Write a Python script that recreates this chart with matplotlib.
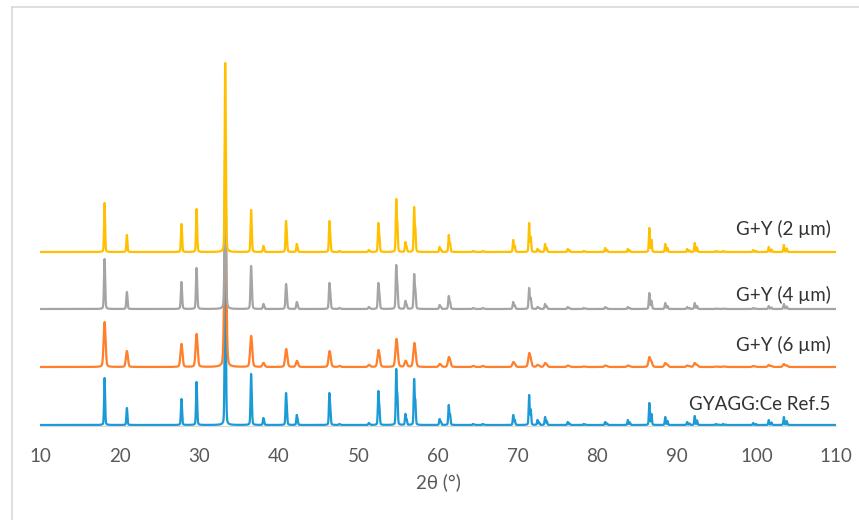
import numpy as np
import matplotlib
matplotlib.use('Agg')
import matplotlib.pyplot as plt
from matplotlib.lines import Line2D

# Peak positions (2theta, deg)
peak_pos = [18.1, 20.9, 27.75, 29.65, 33.25, 36.5, 38.05, 40.9, 42.25, 46.35,
            47.6, 51.3, 52.5, 54.75, 55.9, 57.0, 60.2, 61.35, 64.4, 65.6,
            69.45, 71.45, 72.5, 73.45, 76.3, 78.3, 81.0, 83.85, 86.55, 88.55,
            91.3, 92.25, 94.9, 95.8, 99.6, 101.55, 103.45]

# Peak heights (a.u.) per pattern, same order as peak_pos
h_ref = [47, 17, 26, 43, 175, 51, 7, 32, 10, 32,
         1, 2, 34, 56, 11, 46, 6, 20, 1, 1,
         10, 30, 5, 8, 3, 1, 3, 5, 22, 8,
         3, 9, 1, 1, 2, 5, 8]
h_6um = [45, 16, 23, 33, 160, 31, 4, 18, 6, 16,
         1, 2, 17, 28, 6, 24, 3, 10, 1, 1,
         5, 14, 2, 4, 1.5, 0.5, 1.5, 1.5, 10, 4,
         1.5, 4, 0.5, 0.5, 1, 2, 3]
h_4um = [50, 17, 27, 41, 170, 43, 5, 25, 7, 26,
         1, 2, 26, 44, 8, 35, 4, 13, 1, 1,
         7, 21, 2, 5, 2, 1, 2, 2, 16, 6,
         2, 6, 0.5, 0.5, 1, 3, 5]
h_2um = [49, 17, 28, 43, 189, 42, 6, 31, 8, 31,
         1, 2, 29, 53, 10, 45, 5, 17, 1, 1,
         12, 29, 3, 8, 3, 1, 4, 3, 24, 8,
         3, 9, 1, 1, 2, 5, 7]

labels = ['GYAGG:Ce Ref.5', 'G+Y (6 \u00b5m)', 'G+Y (4 \u00b5m)', 'G+Y (2 \u00b5m)']
heights = [h_ref, h_6um, h_4um, h_2um]
offsets = [0, 58, 116, 173]
fwhm = [0.14, 0.28, 0.16, 0.14]
colors = ['#1A9AD6', '#FF7F2A', '#A5A5A5', '#FFC000']
label_y = [20, 80, 130, 196]

x = np.linspace(10, 110, 8000)


def pattern(pos, hts, w):
    y = np.zeros_like(x)
    for p, h in zip(pos, hts):
        # Cu Ka2 companion at half intensity
        th2 = 2 * np.degrees(np.arcsin(np.sin(np.radians(p / 2)) * 1.5444 / 1.5406))
        prof = np.zeros_like(x)
        for c, a in ((p, 1.0), (th2, 0.5)):
            g = np.exp(-4 * np.log(2) * ((x - c) / w) ** 2)
            lz = 1 / (1 + 4 * ((x - c) / w) ** 2)
            prof += a * (0.75 * g + 0.25 * lz)
        y += h * prof / prof.max()
    return y


fig = plt.figure(figsize=(8.59, 5.2), dpi=100)
ax = fig.add_axes([40 / 859, 1 - 426 / 520, 796 / 859, 381 / 520])

for hts, off, w, col in zip(heights, offsets, fwhm, colors):
    y = pattern(peak_pos, hts, w)
    ax.plot(x, y + off, color=col, lw=1.6, solid_joinstyle='round')

for lab, ly in zip(labels, label_y):
    ax.text(109.3, ly, lab, ha='right', va='center', fontsize=13.5,
            family='Lato', color='#333333')

ax.set_xlim(10, 110)
ax.set_ylim(-1, 380)
ax.set_xticks(range(10, 111, 10))
ax.set_yticks([])
ax.tick_params(axis='x', length=0, pad=16, labelsize=13.5, labelcolor='#595959')
for lb in ax.get_xticklabels():
    lb.set_family('Lato')
for s in ['top', 'left', 'right']:
    ax.spines[s].set_visible(False)
ax.spines['bottom'].set_color('#D9D9D9')
ax.set_xlabel('2\u03b8 (\u00b0)', fontsize=13.5, color='#595959', family='Lato', labelpad=6)

# light chart frame (cropped at right and bottom)
fig.add_artist(Line2D([12 / 859, 1], [1 - 7 / 520, 1 - 7 / 520], color='#D9D9D9', lw=1.2))
fig.add_artist(Line2D([12 / 859, 12 / 859], [0, 1 - 7 / 520], color='#D9D9D9', lw=1.2))

plt.savefig('out.png', dpi=100)
plt.close()
